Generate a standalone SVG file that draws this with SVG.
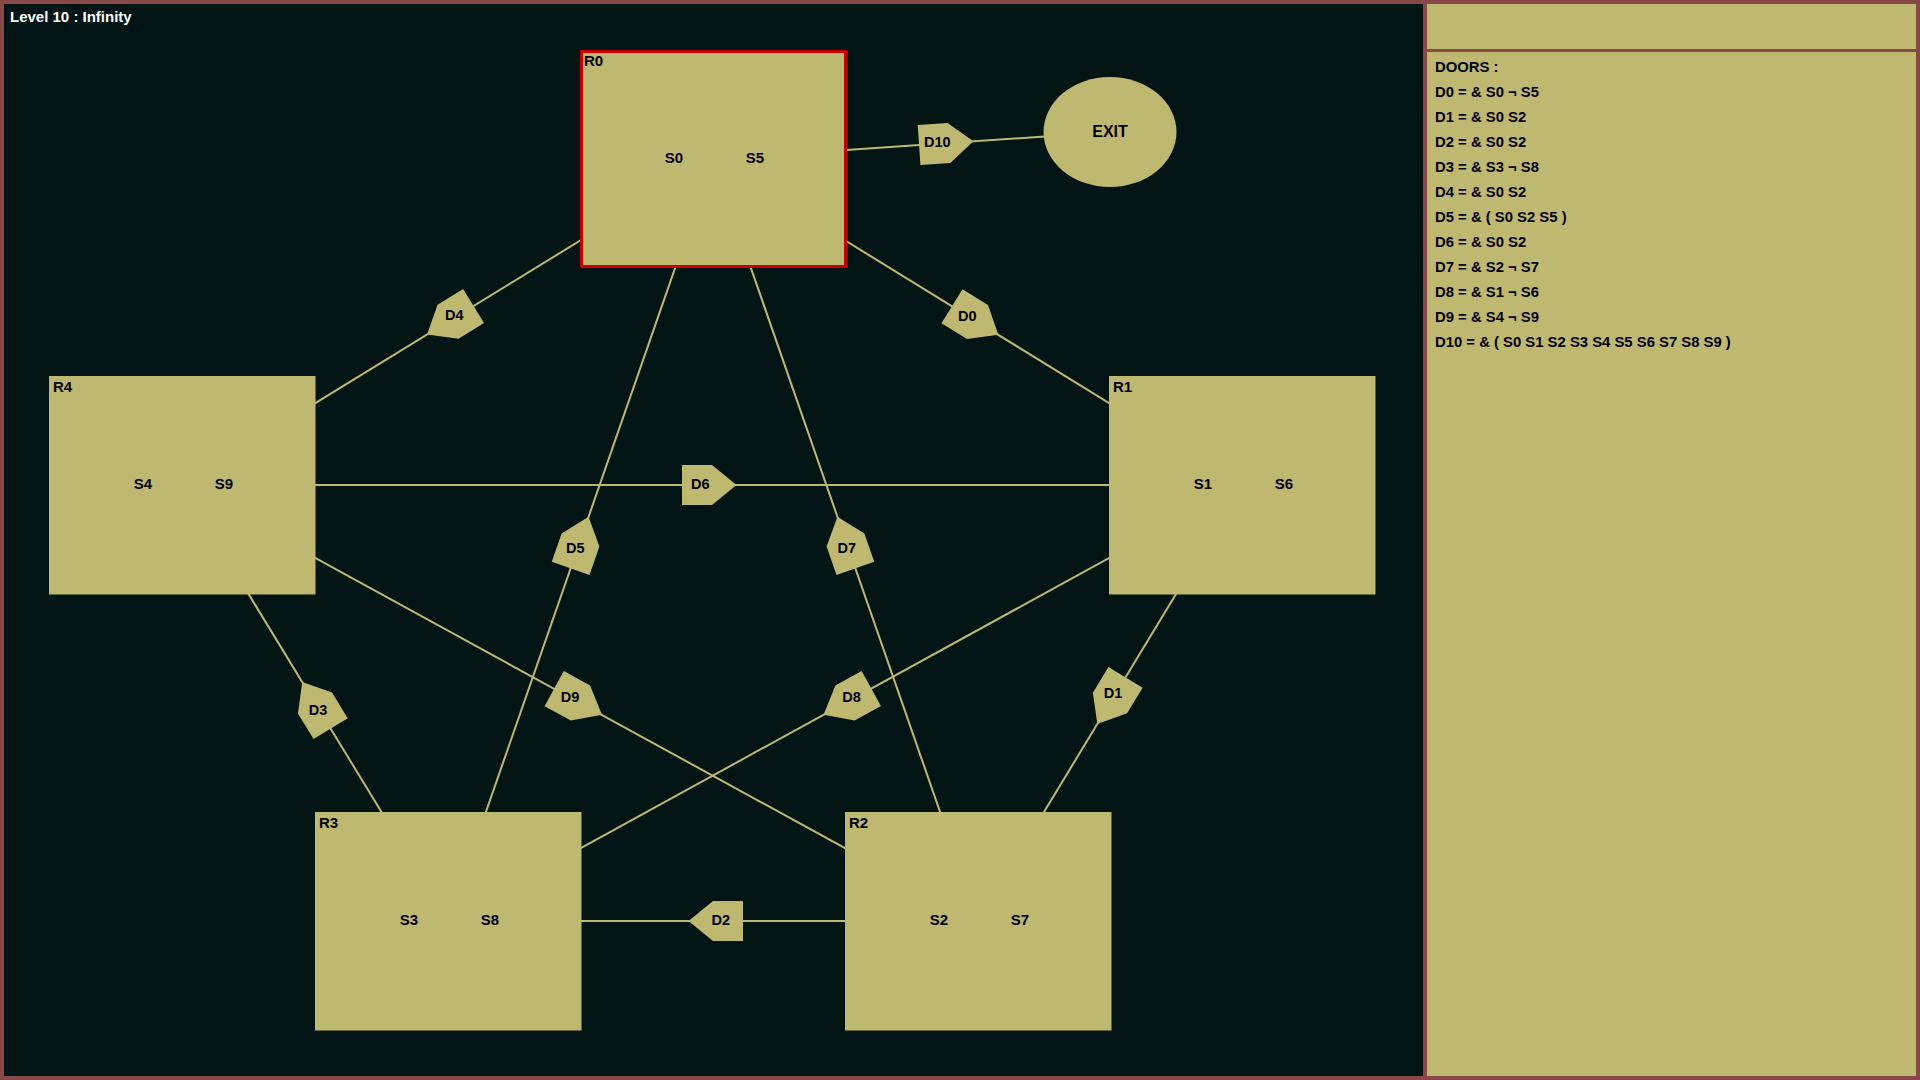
<svg xmlns="http://www.w3.org/2000/svg" xmlns:xlink="http://www.w3.org/1999/xlink" width="1920" height="1080" viewBox="0 0 1920 1080">
<style>
text{font-family:"Liberation Sans",Arial,sans-serif;font-weight:bold;font-size:15px;fill:#000}
.room{fill:#BFB870}
.lbl{text-anchor:middle}
.dl{text-anchor:middle;font-size:14.5px}
.conn{stroke:#BFB870;stroke-width:2;fill:none}
.door{fill:#BFB870}
.panel text{font-size:14.85px}
</style>
<defs>
<polygon id="doorShape" points="-30,-20 0,-20 24.5,0 0,20 -30,20"/>
</defs>
<rect x="0" y="0" width="1920" height="1080" fill="#884848"/>
<rect x="4" y="4" width="1419" height="1072" fill="#021414"/>
<rect x="1427" y="4" width="489" height="1072" fill="#BFB870"/>
<rect x="1427" y="49" width="489" height="3" fill="#884848"/>
<text x="10" y="22" style="fill:#ffffff">Level 10 : Infinity</text>

<g id="connectors" class="conn">
<line x1="713" y1="159" x2="1242" y2="485"/>
<line x1="1242" y1="485" x2="978" y2="921"/>
<line x1="978" y1="921" x2="448" y2="921"/>
<line x1="448" y1="921" x2="182" y2="485"/>
<line x1="182" y1="485" x2="713" y2="159"/>
<line x1="713" y1="159" x2="448" y2="921"/>
<line x1="713" y1="159" x2="978" y2="921"/>
<line x1="1242" y1="485" x2="448" y2="921"/>
<line x1="182" y1="485" x2="978" y2="921"/>
<line x1="182" y1="485" x2="1242" y2="485"/>
<line x1="713" y1="159" x2="1110" y2="132"/>
</g>

<g id="R0">
<rect x="581.5" y="51.5" width="264" height="215" class="room" stroke="#C80000" stroke-width="3"/>
<text x="584" y="66">R0</text>
<text class="lbl" x="674" y="162.5">S0</text>
<text class="lbl" x="755" y="162.5">S5</text>
</g>
<g id="R1">
<rect x="1109" y="376" width="266.5" height="218.5" class="room"/>
<text x="1113" y="392">R1</text>
<text class="lbl" x="1203" y="488.5">S1</text>
<text class="lbl" x="1284" y="488.5">S6</text>
</g>
<g id="R2">
<rect x="845" y="812" width="266.5" height="218.5" class="room"/>
<text x="849" y="828">R2</text>
<text class="lbl" x="939" y="924.5">S2</text>
<text class="lbl" x="1020" y="924.5">S7</text>
</g>
<g id="R3">
<rect x="315" y="812" width="266.5" height="218.5" class="room"/>
<text x="319" y="828">R3</text>
<text class="lbl" x="409" y="924.5">S3</text>
<text class="lbl" x="490" y="924.5">S8</text>
</g>
<g id="R4">
<rect x="49" y="376" width="266.5" height="218.5" class="room"/>
<text x="53" y="392">R4</text>
<text class="lbl" x="143" y="488.5">S4</text>
<text class="lbl" x="224" y="488.5">S9</text>
</g>
<g id="EXIT">
<ellipse cx="1110" cy="132" rx="66.5" ry="55" class="room"/>
<text class="lbl" x="1110" y="137" style="font-size:16px">EXIT</text>
</g>

<g id="D0"><use xlink:href="#doorShape" class="door" transform="translate(977.5,322) rotate(31.64)"/><text class="dl" x="967.2" y="320.5">D0</text></g>
<g id="D1"><use xlink:href="#doorShape" class="door" transform="translate(1110,703) rotate(121.2)"/><text class="dl" x="1113" y="698.3">D1</text></g>
<g id="D2"><use xlink:href="#doorShape" class="door" transform="translate(713,921) rotate(180)"/><text class="dl" x="720.7" y="924.6">D2</text></g>
<g id="D3"><use xlink:href="#doorShape" class="door" transform="translate(315,703) rotate(-121.4)"/><text class="dl" x="318" y="714.9">D3</text></g>
<g id="D4"><use xlink:href="#doorShape" class="door" transform="translate(448,321.7) rotate(148.45)"/><text class="dl" x="454.3" y="320.2">D4</text></g>
<g id="D5"><use xlink:href="#doorShape" class="door" transform="translate(580.5,540) rotate(-70.8)"/><text class="dl" x="575.3" y="552.8">D5</text></g>
<g id="D6"><use xlink:href="#doorShape" class="door" transform="translate(712,485)"/><text class="dl" x="700.3" y="488.6">D6</text></g>
<g id="D7"><use xlink:href="#doorShape" class="door" transform="translate(845.5,540) rotate(-109.2)"/><text class="dl" x="846.7" y="552.8">D7</text></g>
<g id="D8"><use xlink:href="#doorShape" class="door" transform="translate(845,703) rotate(151.2)"/><text class="dl" x="851.5" y="701.9">D8</text></g>
<g id="D9"><use xlink:href="#doorShape" class="door" transform="translate(580.5,703) rotate(28.7)"/><text class="dl" x="570" y="701.9">D9</text></g>
<g id="D10"><use xlink:href="#doorShape" class="door" transform="translate(949,143) rotate(-3.9)"/><text class="dl" x="937.3" y="147">D10</text></g>

<g id="doors-panel" class="panel">
<text x="1435" y="72">DOORS :</text>
<text x="1435" y="97">D0 = &amp; S0 ¬ S5</text>
<text x="1435" y="122">D1 = &amp; S0 S2</text>
<text x="1435" y="147">D2 = &amp; S0 S2</text>
<text x="1435" y="172">D3 = &amp; S3 ¬ S8</text>
<text x="1435" y="197">D4 = &amp; S0 S2</text>
<text x="1435" y="222">D5 = &amp; ( S0 S2 S5 )</text>
<text x="1435" y="247">D6 = &amp; S0 S2</text>
<text x="1435" y="272">D7 = &amp; S2 ¬ S7</text>
<text x="1435" y="297">D8 = &amp; S1 ¬ S6</text>
<text x="1435" y="322">D9 = &amp; S4 ¬ S9</text>
<text x="1435" y="347">D10 = &amp; ( S0 S1 S2 S3 S4 S5 S6 S7 S8 S9 )</text>
</g>
</svg>
